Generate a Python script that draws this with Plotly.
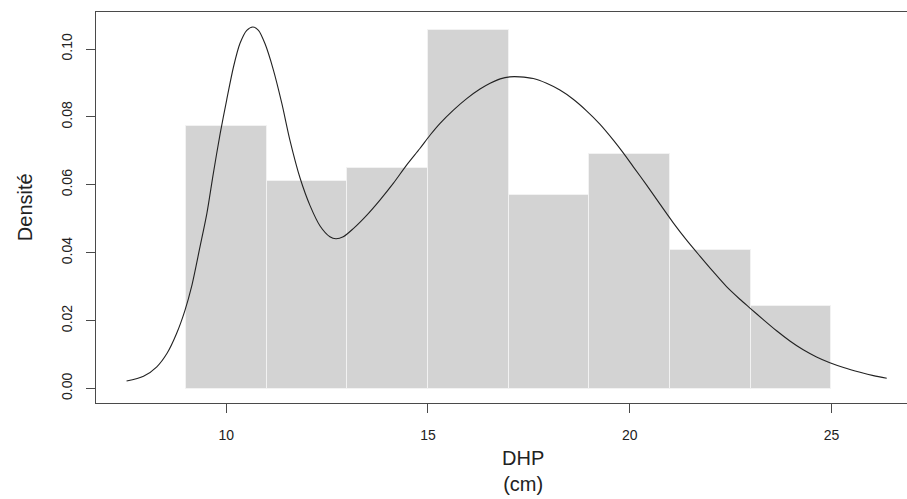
import plotly.graph_objects as go

# Histogram (density scale), bin breaks every 2 cm
bin_mids = [10, 12, 14, 16, 18, 20, 22, 24]
bin_width = 2
densities = [0.0772, 0.0610, 0.0650, 0.1057, 0.0569, 0.0691, 0.0407, 0.0244]

# Kernel density curve
kde_x = [7.53, 7.95, 8.28, 8.53, 8.77, 8.98, 9.14, 9.35, 9.52, 9.68, 9.85,
         10.01, 10.18, 10.34, 10.51, 10.66, 10.80, 10.96, 11.17, 11.38, 11.58,
         11.83, 12.08, 12.33, 12.57, 12.72, 12.90, 13.15, 13.48, 13.81, 14.14,
         14.47, 14.80, 15.05, 15.30, 15.63, 15.96, 16.29, 16.54, 16.79, 17.03,
         17.28, 17.61, 17.94, 18.27, 18.60, 18.93, 19.26, 19.60, 19.84, 20.09,
         20.42, 20.75, 21.08, 21.41, 21.74, 22.07, 22.40, 22.73, 22.98, 23.31,
         23.64, 23.97, 24.30, 24.63, 24.96, 25.30, 25.71, 26.04, 26.37]
kde_y = [0.0022, 0.0036, 0.0064, 0.0103, 0.0162, 0.0231, 0.0299, 0.0417, 0.0515,
         0.0633, 0.0751, 0.0849, 0.0947, 0.1016, 0.1055, 0.1065, 0.1055, 0.1016,
         0.0938, 0.0839, 0.0731, 0.0620, 0.0538, 0.0478, 0.0447, 0.0441, 0.0447,
         0.0471, 0.0510, 0.0555, 0.0604, 0.0658, 0.0707, 0.0746, 0.0781, 0.0820,
         0.0854, 0.0882, 0.0899, 0.0912, 0.0918, 0.0918, 0.0913, 0.0899, 0.0879,
         0.0852, 0.0818, 0.0779, 0.0731, 0.0694, 0.0653, 0.0599, 0.0543, 0.0488,
         0.0437, 0.0390, 0.0344, 0.0300, 0.0263, 0.0237, 0.0203, 0.0170, 0.0140,
         0.0114, 0.0093, 0.0076, 0.0062, 0.0048, 0.0038, 0.0030]

x_ticks = [10, 15, 20, 25]
y_ticks = [0.00, 0.02, 0.04, 0.06, 0.08, 0.10]
y_ticktext = ["0.00", "0.02", "0.04", "0.06", "0.08", "0.10"]

FONT = "Liberation Sans, Arial, Helvetica, sans-serif"
AXIS_COLOR = "#4a4a4a"

fig = go.Figure()
fig.add_trace(go.Bar(
    x=bin_mids, y=densities, width=[bin_width] * len(bin_mids),
    marker=dict(color="#d3d3d3", line=dict(color="#f2f2f2", width=1)),
    hoverinfo="skip", showlegend=False,
))
fig.add_trace(go.Scatter(
    x=kde_x, y=kde_y, mode="lines",
    line=dict(color="#222222", width=1.1, shape="spline", smoothing=0.8),
    hoverinfo="skip", showlegend=False,
))

fig.update_layout(
    width=907, height=499,
    margin=dict(l=96, r=0, t=12, b=96, autoexpand=False),
    paper_bgcolor="white", plot_bgcolor="white",
    font=dict(family=FONT, color="#222222"),
    bargap=0,
    xaxis=dict(
        range=[6.773, 26.872], showgrid=False, zeroline=False, automargin=False,
        showline=True, linecolor=AXIS_COLOR, linewidth=1, mirror=True,
        tickvals=x_ticks, ticks="outside", ticklen=9, tickcolor=AXIS_COLOR,
        tickfont=dict(size=14, family=FONT, color="#222222"),
        ticklabelstandoff=10,
    ),
    yaxis=dict(
        range=[-0.00427, 0.1109], showgrid=False, zeroline=False, automargin=False,
        showline=True, linecolor=AXIS_COLOR, linewidth=1, mirror=False,
        tickvals=y_ticks, ticktext=y_ticktext, ticks="outside", ticklen=9,
        tickcolor=AXIS_COLOR, tickangle=-90,
        tickfont=dict(size=14, family=FONT, color="#222222"),
        ticklabelstandoff=8,
    ),
    annotations=[
        dict(text="Densité", xref="paper", yref="paper", x=-0.0875, y=0.501,
             textangle=-90, showarrow=False, xanchor="center", yanchor="middle",
             font=dict(size=20, family=FONT, color="#222222")),
        dict(text="DHP<br>(cm)", xref="paper", yref="paper", x=0.527, y=-0.175,
             showarrow=False, xanchor="center", yanchor="middle",
             font=dict(size=20, family=FONT, color="#222222")),
    ],
)

fig.write_html("out.html", config={"displayModeBar": False},
               post_script="document.body.style.margin='0px';")
